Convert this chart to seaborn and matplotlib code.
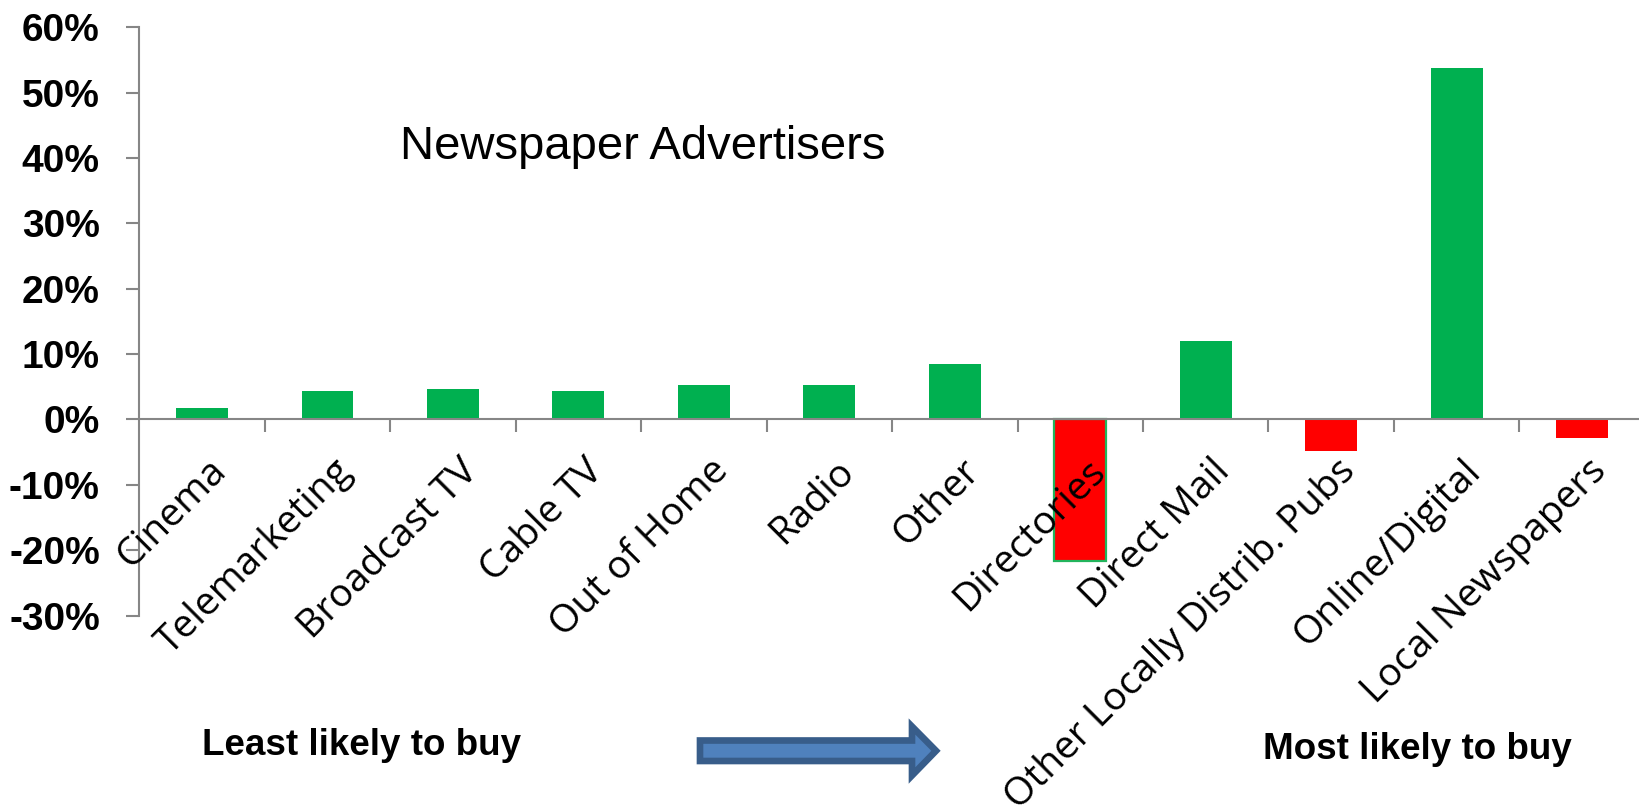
import matplotlib
matplotlib.use("Agg")
import matplotlib.pyplot as plt
from matplotlib.patches import Polygon
from matplotlib.ticker import FuncFormatter
from matplotlib.transforms import ScaledTranslation
import seaborn as sns
import pandas as pd

# Net change in intended spend by medium, ordered least -> most likely to buy
categories = [
    "Cinema", "Telemarketing", "Broadcast TV", "Cable TV", "Out of Home",
    "Radio", "Other", "Directories", "Direct Mail",
    "Other Locally Distrib. Pubs", "Online/Digital", "Local Newspapers",
]
values = [0.018, 0.043, 0.046, 0.043, 0.053, 0.053, 0.085, -0.217,
          0.120, -0.049, 0.538, -0.029]
y_ticks = [-0.3, -0.2, -0.1, 0.0, 0.1, 0.2, 0.3, 0.4, 0.5, 0.6]

title_text = "Newspaper Advertisers"
left_note = "Least likely to buy"
right_note = "Most likely to buy"

GREEN = "#00B050"
RED = "#FF0000"
AXIS_GRAY = "#868686"

sns.set_style("white", {"text.color": "black", "xtick.color": "black",
                        "ytick.color": "black"})

df = pd.DataFrame({"medium": categories, "change": values})
palette = {c: (GREEN if v >= 0 else RED) for c, v in zip(categories, values)}

W, H = 1640, 806
fig = plt.figure(figsize=(W / 100, H / 100), dpi=100)
ax = fig.add_axes([139.3 / W, 1 - 615.5 / H, 1505.5 / W, (615.5 - 27.3) / H])

sns.barplot(data=df, x="medium", y="change", hue="medium", palette=palette,
            width=0.414, legend=False, ax=ax, linewidth=0, saturation=1)

for p in ax.patches:
    p.set_zorder(1)
    cx = p.get_x() + p.get_width() / 2
    # The Directories bar carries a green outline
    if round(cx) == categories.index("Directories"):
        p.set_edgecolor("#22B45C")
        p.set_linewidth(1.6)

ax.set_xlim(-0.5, len(categories) - 0.5)
ax.set_ylim(-0.3, 0.6)
ax.set_yticks(y_ticks)
ax.yaxis.set_major_formatter(FuncFormatter(lambda v, _: f"{v * 100:.0f}%"))
ax.set_xlabel("")
ax.set_ylabel("")

for side in ("top", "right"):
    ax.spines[side].set_visible(False)
ax.spines["bottom"].set_position(("data", 0))
for side in ("left", "bottom"):
    ax.spines[side].set_color(AXIS_GRAY)
    ax.spines[side].set_linewidth(1.5)
ax.xaxis.set_zorder(5)

ax.tick_params(axis="y", direction="out", length=9.4, width=1.5,
               color=AXIS_GRAY, labelcolor="black", pad=19, left=True)
for lbl in ax.get_yticklabels():
    lbl.set_fontfamily("Liberation Sans")
    lbl.set_fontweight("bold")
    lbl.set_fontsize(28)

# Category separators below the zero line
ax.set_xticks([i + 0.5 for i in range(len(categories) - 1)], minor=True)
ax.tick_params(axis="x", which="minor", direction="out", length=9.4,
               width=1.5, color=AXIS_GRAY, bottom=True)
ax.tick_params(axis="x", which="major", length=0, pad=33,
               labelcolor="black")
ax.set_xticks(range(len(categories)))
ax.set_xticklabels(categories, rotation=45, ha="right", va="center",
                   rotation_mode="anchor", fontfamily="Open Sans",
                   fontsize=28)
shift = ScaledTranslation(0.19, 0, fig.dpi_scale_trans)
for lbl in ax.get_xticklabels():
    lbl.set_transform(lbl.get_transform() + shift)

# Chart heading inside the plot area
fig.text(643 / W, 1 - 159 / H, title_text, fontfamily="Liberation Sans",
         fontsize=34, ha="center", va="baseline", color="black")

# Bottom annotations and the direction arrow
fig.text(361.5 / W, 1 - 755 / H, left_note, fontfamily="Liberation Sans",
         fontweight="bold", fontsize=26.5, ha="center", va="baseline",
         color="black")
fig.text(1417.5 / W, 1 - 759 / H, right_note, fontfamily="Liberation Sans",
         fontweight="bold", fontsize=26.5, ha="center", va="baseline",
         color="black")

arrow_px = [(700, 740.5), (912, 740.5), (912, 726.5), (936, 750.8),
            (912, 775.5), (912, 761), (700, 761)]
arrow = Polygon([(x / W, 1 - y / H) for x, y in arrow_px], closed=True,
                transform=fig.transFigure, facecolor="#4F81BD",
                edgecolor="#385D8A", linewidth=4.8, joinstyle="miter")
fig.patches.append(arrow)

fig.savefig("out.png", dpi=100)
